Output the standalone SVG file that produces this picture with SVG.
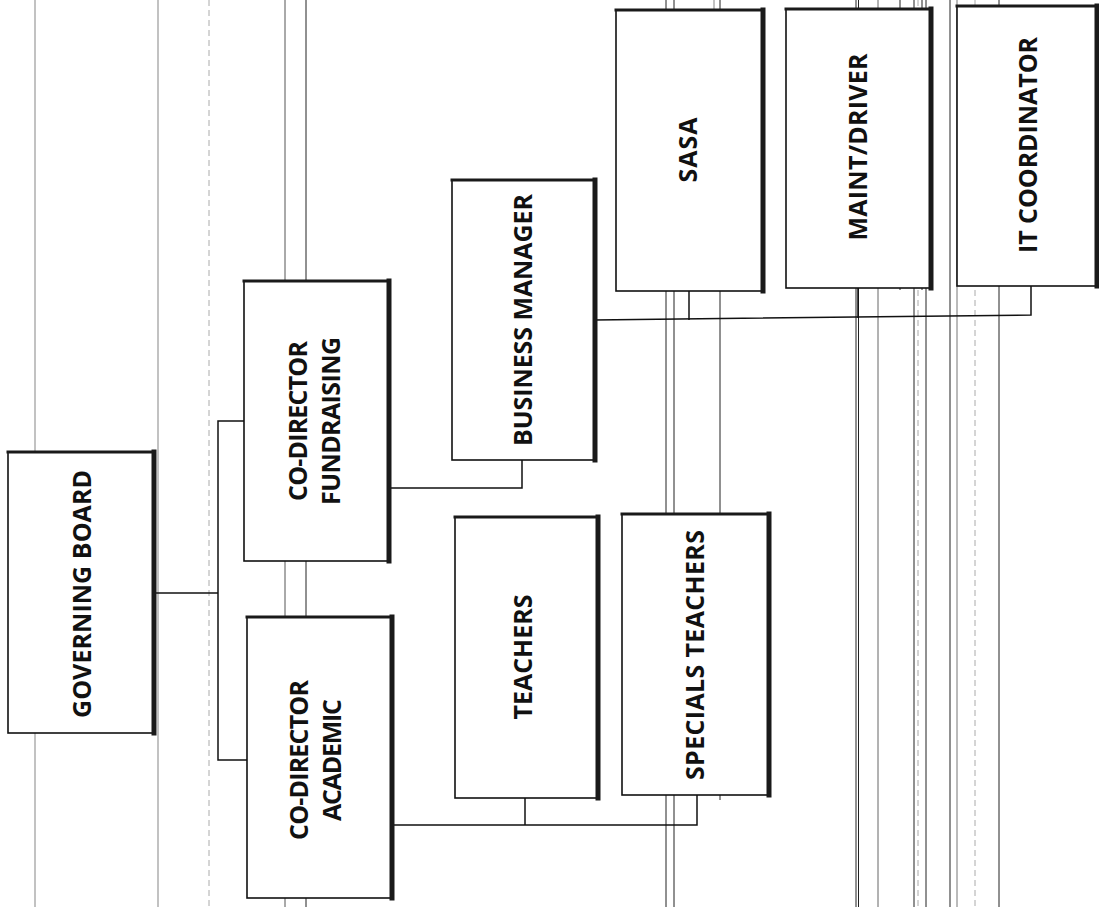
<svg xmlns="http://www.w3.org/2000/svg" width="1099" height="907" viewBox="0 0 1099 907">
<style>
.bx{fill:#fff;stroke:#111;stroke-width:1.6}
.sh{fill:none;stroke:#1a1a1a;stroke-linecap:square}
.shT{stroke-width:3}
.shR{stroke-width:5}
.t{font-family:"Open Sans","Liberation Sans",sans-serif;font-weight:700;font-size:25px;fill:#111;text-anchor:middle}
.c{fill:none;stroke:#111;stroke-width:1.5}
.sl{stroke:#222;stroke-width:1}
.sg{stroke:#999;stroke-width:1.2}
.sd{stroke:#aaa;stroke-width:1;stroke-dasharray:6 4}
</style>
<rect width="1099" height="907" fill="#fff"/>
<g id="scan-lines">
<line class="sg" x1="35" y1="0" x2="35" y2="907"/>
<line class="sg" x1="158" y1="0" x2="158" y2="907"/>
<line class="sd" x1="209" y1="0" x2="209" y2="907"/>
<line class="sl" x1="285" y1="0" x2="285" y2="907" style="stroke:#555"/>
<line class="sl" x1="306" y1="0" x2="306" y2="907"/>
<line class="sl" x1="666" y1="0" x2="666" y2="907"/>
<line class="sl" x1="674" y1="0" x2="674" y2="907"/>
<line class="sg" x1="714" y1="0" x2="714" y2="290"/>
<line class="sl" x1="720" y1="0" x2="720" y2="800"/>
<line class="sl" x1="856" y1="0" x2="856" y2="907"/>
<line class="sl" x1="858.5" y1="0" x2="858.5" y2="907"/>
<line class="sl" x1="878" y1="0" x2="878" y2="907" style="stroke:#666"/>
<line class="sl" x1="900" y1="0" x2="900" y2="290"/>
<line class="sl" x1="914" y1="0" x2="914" y2="907"/>
<line class="sd" x1="918" y1="0" x2="918" y2="907"/>
<line class="sl" x1="922" y1="0" x2="922" y2="290"/>
<line class="sl" x1="926" y1="0" x2="926" y2="907"/>
<line class="sl" x1="950" y1="0" x2="950" y2="907"/>
<line class="sl" x1="957" y1="0" x2="957" y2="907" style="stroke:#777"/>
<line class="sd" x1="975" y1="0" x2="975" y2="907"/>
<line class="sl" x1="999" y1="0" x2="999" y2="907"/>
</g>
<g id="connectors">
<polyline class="c" points="153,593 218,593"/>
<polyline class="c" points="244,421 218,421 218,760 247,760"/>
<polyline class="c" points="388,488 522,488 522,460"/>
<polyline class="c" points="391,825 697,825 697,795"/>
<polyline class="c" points="525,825 525,798"/>
<polyline class="c" points="594,320 1031,315 1031,286"/>
<polyline class="c" points="689,320 689,291"/>
<polyline class="c" points="858,318 858,288"/>
</g>
<g id="governing-board">
<rect class="bx" x="8" y="452" width="145" height="281"/>
<path class="sh shT" d="M8,452 H153"/><path class="sh shR" d="M154,452 V733"/>
<text class="t" transform="translate(82,594) rotate(-90)" dy="0.36em" textLength="248">GOVERNING BOARD</text>
</g>
<g id="co-director-fundraising">
<rect class="bx" x="244" y="281" width="144" height="280"/>
<path class="sh shT" d="M244,281 H388"/><path class="sh shR" d="M389,281 V561"/>
<text class="t" transform="translate(298,421) rotate(-90)" dy="0.36em" textLength="160">CO-DIRECTOR</text>
<text class="t" transform="translate(331,421) rotate(-90)" dy="0.36em" textLength="168">FUNDRAISING</text>
</g>
<g id="co-director-academic">
<rect class="bx" x="247" y="617" width="144" height="281"/>
<path class="sh shT" d="M247,617 H391"/><path class="sh shR" d="M392,617 V898"/>
<text class="t" transform="translate(299,760) rotate(-90)" dy="0.36em" textLength="160">CO-DIRECTOR</text>
<text class="t" transform="translate(332,760) rotate(-90)" dy="0.36em" textLength="122">ACADEMIC</text>
</g>
<g id="business-manager">
<rect class="bx" x="452" y="180" width="142" height="280"/>
<path class="sh shT" d="M452,180 H594"/><path class="sh shR" d="M595,180 V460"/>
<text class="t" transform="translate(523,320) rotate(-90)" dy="0.36em" textLength="252">BUSINESS MANAGER</text>
</g>
<g id="teachers">
<rect class="bx" x="455" y="517" width="142" height="281"/>
<path class="sh shT" d="M455,517 H597"/><path class="sh shR" d="M598,517 V798"/>
<text class="t" transform="translate(523,657) rotate(-90)" dy="0.36em" textLength="125">TEACHERS</text>
</g>
<g id="specials-teachers">
<rect class="bx" x="622" y="514" width="146" height="281"/>
<path class="sh shT" d="M622,514 H768"/><path class="sh shR" d="M769,514 V795"/>
<text class="t" transform="translate(695,655) rotate(-90)" dy="0.36em" textLength="250">SPECIALS TEACHERS</text>
</g>
<g id="sasa">
<rect class="bx" x="616" y="10" width="146" height="281"/>
<path class="sh shT" d="M616,10 H762"/><path class="sh shR" d="M763,10 V291"/>
<text class="t" transform="translate(688,150) rotate(-90)" dy="0.36em" textLength="65">SASA</text>
</g>
<g id="maint-driver">
<rect class="bx" x="786" y="9" width="144" height="279"/>
<path class="sh shT" d="M786,9 H930"/><path class="sh shR" d="M931,9 V288"/>
<text class="t" transform="translate(858,147) rotate(-90)" dy="0.36em" textLength="187">MAINT/DRIVER</text>
</g>
<g id="it-coordinator">
<rect class="bx" x="957" y="6" width="140" height="280"/>
<path class="sh shT" d="M957,6 H1097"/><path class="sh shR" d="M1097,6 V286"/>
<text class="t" transform="translate(1028,145) rotate(-90)" dy="0.36em" textLength="216">IT COORDINATOR</text>
</g>
</svg>
